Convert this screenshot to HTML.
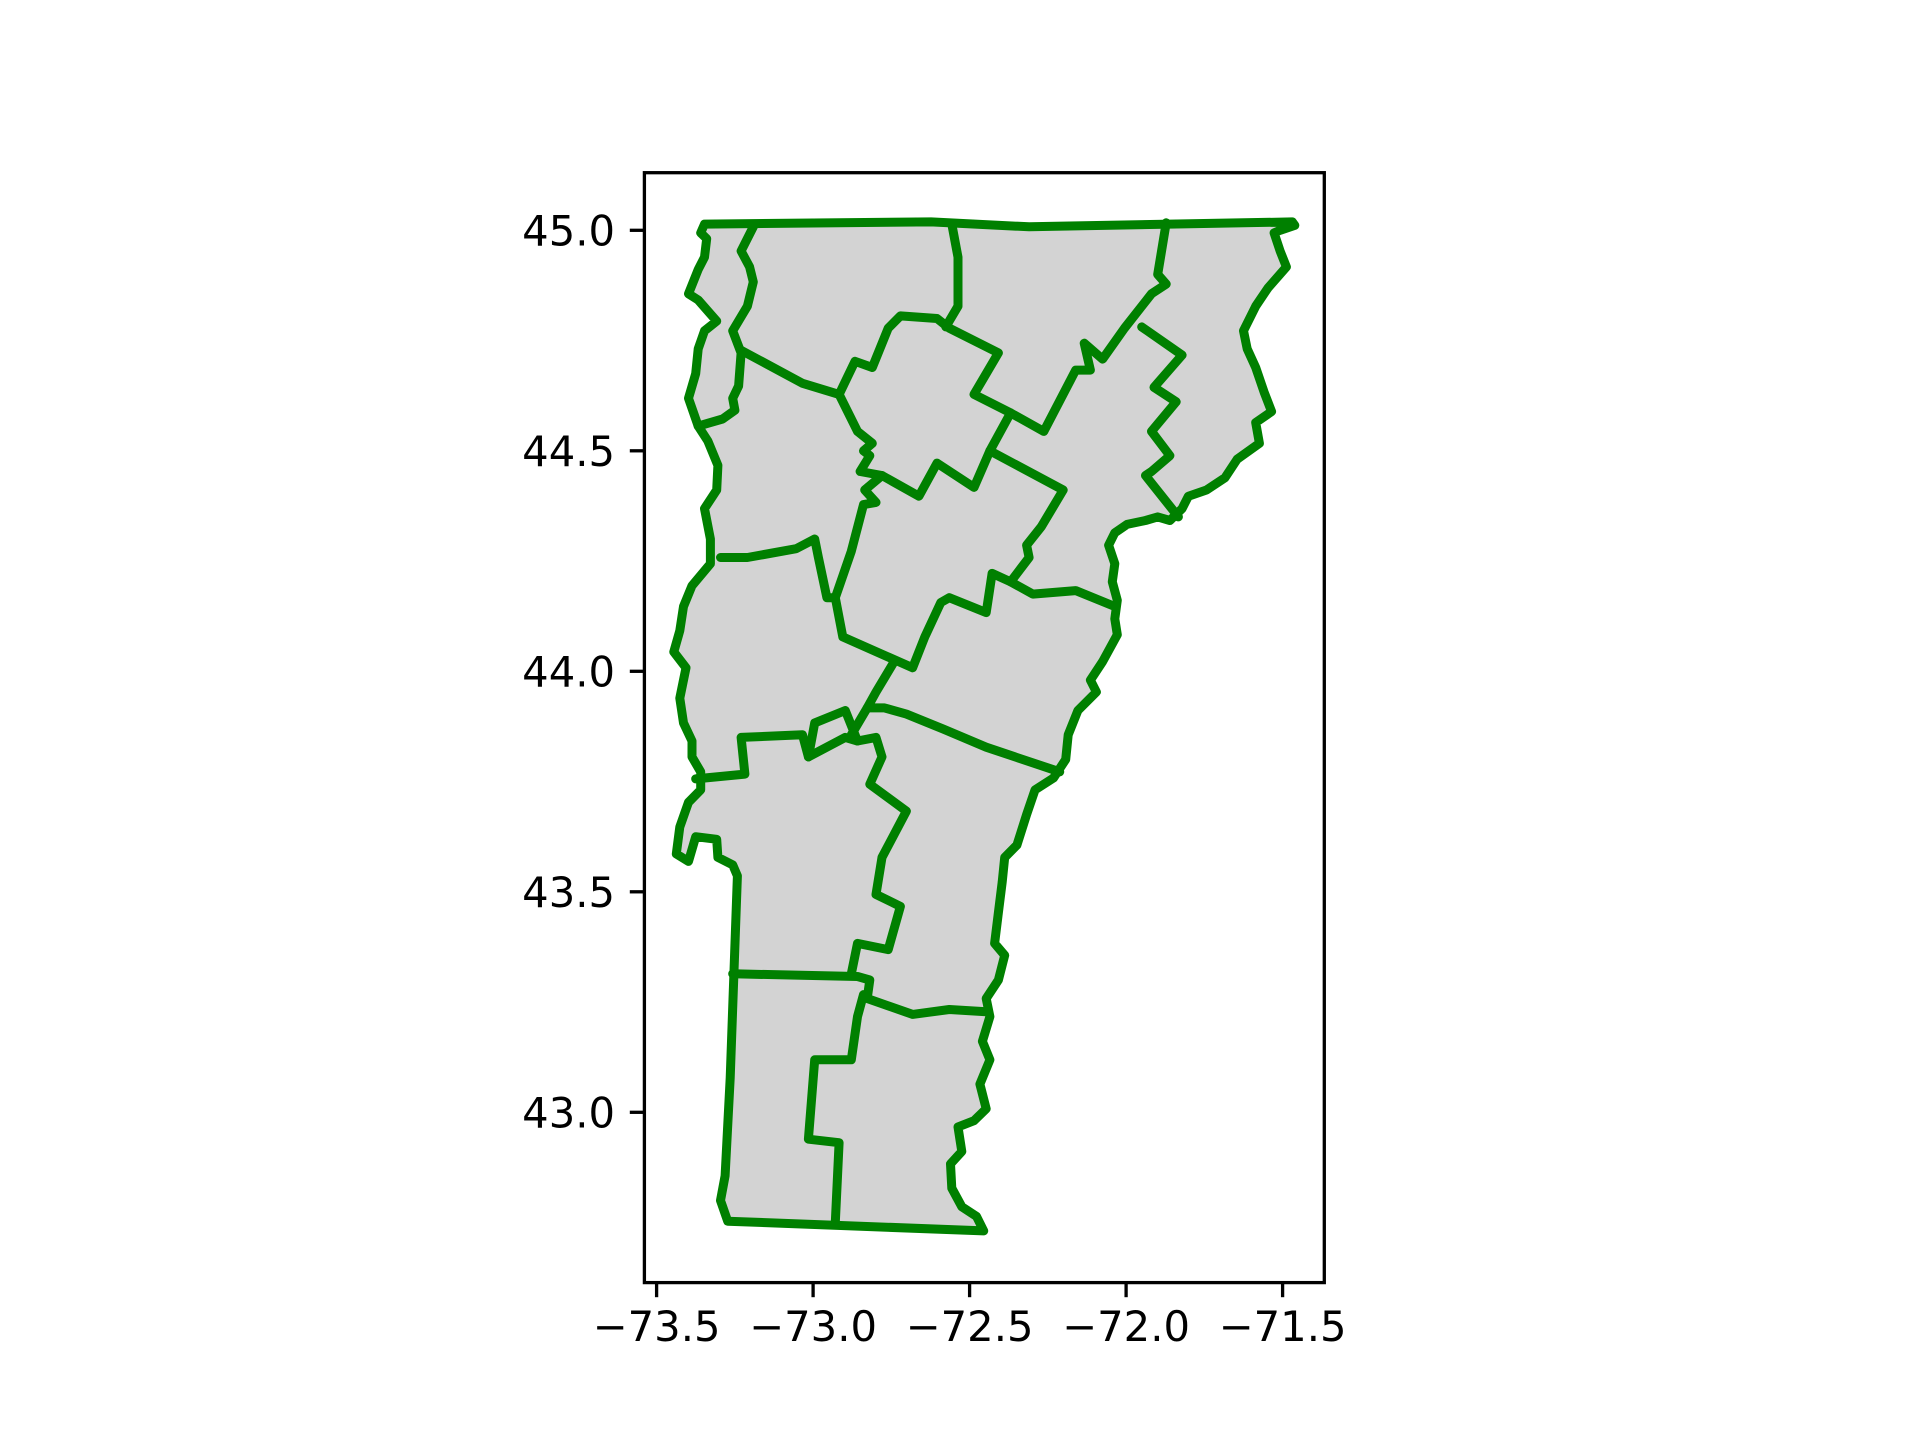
<!DOCTYPE html>
<html><head><meta charset="utf-8"><title>Vermont counties</title>
<style>html,body{margin:0;padding:0;background:#fff;}svg{display:block;}</style></head>
<body>
<svg id="chart" width="1920" height="1440" viewBox="0 0 1920 1440" xmlns="http://www.w3.org/2000/svg" font-family="'DejaVu Sans','Liberation Sans',sans-serif">
<rect width="1920" height="1440" fill="#fff"/>
<g id="plot"></g>
<rect x="644.4" y="172.7" width="679.9" height="1109.9" fill="none" stroke="#000" stroke-width="3.3"/>
<g id="xticks"></g>
<g id="yticks"></g>
</svg>
<script>
const xTickValues = [-73.5, -73.0, -72.5, -72.0, -71.5];
const xTickLabels = ["\u221273.5", "\u221273.0", "\u221272.5", "\u221272.0", "\u221271.5"];
const yTickValues = [43.0, 43.5, 44.0, 44.5, 45.0];
const yTickLabels = ["43.0", "43.5", "44.0", "44.5", "45.0"];

const stateOutline = [[-73.347,45.014],[-72.623,45.019],[-72.310,45.008],[-71.469,45.019],[-71.461,45.011],[-71.508,45.0],[-71.527,44.994],[-71.508,44.953],[-71.488,44.917],[-71.547,44.869],[-71.586,44.828],[-71.625,44.772],[-71.613,44.731],[-71.586,44.689],[-71.559,44.633],[-71.535,44.589],[-71.586,44.564],[-71.574,44.517],[-71.645,44.481],[-71.684,44.439],[-71.743,44.411],[-71.801,44.397],[-71.821,44.369],[-71.860,44.342],[-71.899,44.350],[-71.938,44.342],[-71.997,44.333],[-72.036,44.314],[-72.056,44.286],[-72.036,44.244],[-72.044,44.203],[-72.028,44.161],[-72.036,44.119],[-72.028,44.083],[-72.075,44.022],[-72.114,43.980],[-72.095,43.953],[-72.154,43.911],[-72.185,43.856],[-72.193,43.800],[-72.232,43.758],[-72.291,43.731],[-72.318,43.675],[-72.349,43.606],[-72.388,43.578],[-72.396,43.522],[-72.408,43.453],[-72.420,43.383],[-72.388,43.356],[-72.408,43.300],[-72.447,43.258],[-72.435,43.217],[-72.459,43.161],[-72.435,43.119],[-72.467,43.064],[-72.447,43.008],[-72.486,42.981],[-72.537,42.967],[-72.525,42.911],[-72.561,42.883],[-72.557,42.828],[-72.525,42.786],[-72.478,42.764],[-72.455,42.731],[-73.273,42.753],[-73.296,42.800],[-73.281,42.856],[-73.265,43.078],[-73.253,43.314],[-73.242,43.536],[-73.257,43.561],[-73.304,43.578],[-73.308,43.619],[-73.375,43.625],[-73.398,43.569],[-73.437,43.586],[-73.426,43.647],[-73.398,43.703],[-73.359,43.731],[-73.359,43.772],[-73.387,43.806],[-73.387,43.842],[-73.414,43.883],[-73.426,43.939],[-73.406,44.008],[-73.445,44.044],[-73.426,44.092],[-73.414,44.147],[-73.387,44.194],[-73.328,44.244],[-73.328,44.300],[-73.347,44.369],[-73.308,44.411],[-73.304,44.467],[-73.336,44.522],[-73.367,44.556],[-73.398,44.619],[-73.375,44.675],[-73.367,44.731],[-73.347,44.772],[-73.308,44.794],[-73.367,44.842],[-73.398,44.856],[-73.367,44.911],[-73.347,44.939],[-73.340,44.981],[-73.359,44.994]];

const countyLines = [
[[-73.191,45.008],[-73.230,44.953],[-73.203,44.917],[-73.191,44.883],[-73.210,44.828],[-73.257,44.772],[-73.230,44.722],[-73.238,44.647],[-73.257,44.619],[-73.250,44.592],[-73.289,44.572],[-73.367,44.556]],
[[-73.230,44.728],[-73.034,44.653],[-72.917,44.628],[-72.866,44.703],[-72.811,44.689],[-72.760,44.778],[-72.721,44.806],[-72.604,44.800],[-72.565,44.778],[-72.408,44.722],[-72.486,44.628],[-72.369,44.586],[-72.263,44.544],[-72.161,44.683],[-72.114,44.683],[-72.134,44.744],[-72.075,44.708],[-72.005,44.778],[-71.919,44.856],[-71.872,44.878],[-71.899,44.900],[-71.872,45.017]],
[[-72.557,45.014],[-72.537,44.939],[-72.537,44.828],[-72.576,44.781]],
[[-71.950,44.781],[-71.821,44.717],[-71.911,44.644],[-71.840,44.611],[-71.919,44.544],[-71.860,44.489],[-71.919,44.453],[-71.938,44.444],[-71.833,44.350]],
[[-72.917,44.628],[-72.858,44.544],[-72.811,44.517],[-72.839,44.500],[-72.819,44.489],[-72.850,44.453],[-72.780,44.444],[-72.662,44.397],[-72.604,44.472],[-72.486,44.417],[-72.435,44.500],[-72.369,44.586]],
[[-72.435,44.500],[-72.201,44.411],[-72.271,44.328],[-72.318,44.286],[-72.310,44.258],[-72.369,44.203],[-72.428,44.222],[-72.447,44.133],[-72.565,44.167],[-72.592,44.156],[-72.643,44.078],[-72.682,44.008],[-72.905,44.078],[-72.929,44.167],[-72.878,44.272],[-72.839,44.378],[-72.799,44.383],[-72.835,44.411],[-72.780,44.444]],
[[-73.296,44.258],[-73.210,44.258],[-73.054,44.278],[-72.995,44.300],[-72.983,44.258],[-72.956,44.167],[-72.929,44.167]],
[[-72.369,44.203],[-72.298,44.175],[-72.161,44.183],[-72.036,44.147]],
[[-72.741,44.022],[-72.799,43.953],[-72.827,43.917],[-72.772,43.917],[-72.702,43.903],[-72.584,43.869],[-72.447,43.828],[-72.330,43.800],[-72.212,43.772]],
[[-73.375,43.756],[-73.218,43.767],[-73.230,43.850],[-73.034,43.856],[-73.015,43.806],[-72.897,43.850],[-72.858,43.842],[-72.799,43.850],[-72.780,43.806],[-72.819,43.744],[-72.702,43.683],[-72.780,43.578],[-72.799,43.494],[-72.721,43.467],[-72.760,43.369],[-72.858,43.383],[-72.878,43.314]],
[[-73.015,43.806],[-72.995,43.883],[-72.897,43.911],[-72.858,43.842]],
[[-72.827,43.917],[-72.878,43.856]],
[[-73.257,43.314],[-72.858,43.308],[-72.819,43.300],[-72.827,43.258],[-72.682,43.222],[-72.565,43.233],[-72.447,43.228]],
[[-72.839,43.267],[-72.858,43.217],[-72.878,43.119],[-72.995,43.119],[-73.015,42.939],[-72.917,42.931],[-72.929,42.750]]
];

const NS = "http://www.w3.org/2000/svg";
function xScale(lon){ return 656.6 + (lon + 73.5) * 313; }
function yScale(lat){ return 230.3 + (45 - lat) * 441; }
function pts(arr){ return arr.map(p => xScale(p[0]).toFixed(1) + "," + yScale(p[1]).toFixed(1)).join(" "); }

const plot = document.getElementById("plot");
const poly = document.createElementNS(NS, "polygon");
poly.setAttribute("points", pts(stateOutline));
poly.setAttribute("fill", "#d3d3d3");
poly.setAttribute("stroke", "#008000");
poly.setAttribute("stroke-width", "9");
poly.setAttribute("stroke-linejoin", "round");


plot.appendChild(poly);

countyLines.forEach(function(line){
  const pl = document.createElementNS(NS, "polyline");
  pl.setAttribute("points", pts(line));
  pl.setAttribute("fill", "none");
  pl.setAttribute("stroke", "#008000");
  pl.setAttribute("stroke-width", "9");
  pl.setAttribute("stroke-linejoin", "round");
  pl.setAttribute("stroke-linecap", "round");
  
  
  plot.appendChild(pl);
});

const xg = document.getElementById("xticks");
xTickValues.forEach(function(v, i){
  const x = xScale(v);
  const t = document.createElementNS(NS, "line");
  t.setAttribute("x1", x); t.setAttribute("x2", x);
  t.setAttribute("y1", 1282.6); t.setAttribute("y2", 1297.2);
  t.setAttribute("stroke", "#000"); t.setAttribute("stroke-width", "3.3");
  
  
  xg.appendChild(t);
  const tx = document.createElementNS(NS, "text");
  tx.setAttribute("x", x); tx.setAttribute("y", 1341);
  tx.setAttribute("text-anchor", "middle");
  tx.setAttribute("font-size", "41.7");
  tx.textContent = xTickLabels[i];
  
  
  xg.appendChild(tx);
});

const yg = document.getElementById("yticks");
yTickValues.forEach(function(v, i){
  const y = yScale(v);
  const t = document.createElementNS(NS, "line");
  t.setAttribute("x1", 629.8); t.setAttribute("x2", 644.4);
  t.setAttribute("y1", y); t.setAttribute("y2", y);
  t.setAttribute("stroke", "#000"); t.setAttribute("stroke-width", "3.3");
  
  
  yg.appendChild(t);
  const tx = document.createElementNS(NS, "text");
  tx.setAttribute("x", 615); tx.setAttribute("y", y + 15);
  tx.setAttribute("text-anchor", "end");
  tx.setAttribute("font-size", "41.7");
  tx.textContent = yTickLabels[i];
  
  
  yg.appendChild(tx);
});
</script>
</body></html>
